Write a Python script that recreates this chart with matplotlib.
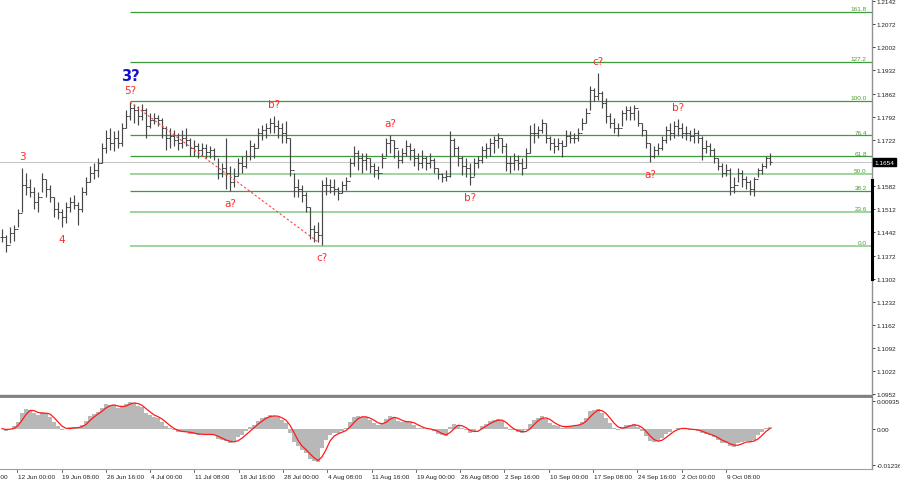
import numpy as np
import pandas as pd
import matplotlib.pyplot as plt
import matplotlib.transforms as mtransforms

# bar data (each bar ~ three 4H bars)
highs = [1.1452, 1.1434, 1.1458, 1.1464, 1.1512, 1.1638, 1.1623, 1.1602, 1.1578, 1.1563,
         1.1623, 1.1602, 1.1584, 1.1548, 1.1533, 1.1512, 1.1533, 1.1548, 1.1554, 1.1533,
         1.1578, 1.1608, 1.1644, 1.1653, 1.1668, 1.1713, 1.1752, 1.1758, 1.1749, 1.1752,
         1.1773, 1.1812, 1.1836, 1.1830, 1.1824, 1.1830, 1.1818, 1.1803, 1.1803, 1.1797,
         1.1788, 1.1764, 1.1758, 1.1752, 1.1743, 1.1752, 1.1758, 1.1728, 1.1722, 1.1713,
         1.1713, 1.1710, 1.1704, 1.1698, 1.1668, 1.1653, 1.1728, 1.1644, 1.1638, 1.1668,
         1.1674, 1.1692, 1.1722, 1.1713, 1.1758, 1.1767, 1.1773, 1.1788, 1.1794, 1.1782,
         1.1773, 1.1779, 1.1728, 1.1623, 1.1602, 1.1584, 1.1563, 1.1518, 1.1464, 1.1473,
         1.1599, 1.1608, 1.1602, 1.1602, 1.1578, 1.1596, 1.1608, 1.1668, 1.1704, 1.1692,
         1.1683, 1.1683, 1.1668, 1.1653, 1.1644, 1.1683, 1.1728, 1.1737, 1.1722, 1.1692,
         1.1698, 1.1722, 1.1713, 1.1698, 1.1683, 1.1692, 1.1674, 1.1683, 1.1668, 1.1638,
         1.1623, 1.1632, 1.1749, 1.1728, 1.1704, 1.1674, 1.1668, 1.1653, 1.1668, 1.1674,
         1.1704, 1.1713, 1.1728, 1.1734, 1.1743, 1.1728, 1.1713, 1.1674, 1.1683, 1.1677,
         1.1668, 1.1698, 1.1767, 1.1773, 1.1764, 1.1785, 1.1773, 1.1734, 1.1728, 1.1728,
         1.1722, 1.1752, 1.1749, 1.1743, 1.1758, 1.1788, 1.1818, 1.1884, 1.1878, 1.1923,
         1.1869, 1.1848, 1.1803, 1.1788, 1.1773, 1.1812, 1.1824, 1.1824, 1.1827, 1.1812,
         1.1773, 1.1752, 1.1713, 1.1704, 1.1713, 1.1734, 1.1764, 1.1773, 1.1779, 1.1785,
         1.1773, 1.1764, 1.1752, 1.1758, 1.1752, 1.1734, 1.1722, 1.1713, 1.1698, 1.1668,
         1.1653, 1.1650, 1.1638, 1.1608, 1.1638, 1.1632, 1.1614, 1.1599, 1.1608, 1.1638,
         1.1653, 1.1674, 1.1683]
lows = [1.1413, 1.1383, 1.1410, 1.1416, 1.1458, 1.1503, 1.1554, 1.1548, 1.1512, 1.1503,
        1.1563, 1.1548, 1.1533, 1.1488, 1.1482, 1.1458, 1.1470, 1.1503, 1.1512, 1.1464,
        1.1503, 1.1554, 1.1593, 1.1602, 1.1608, 1.1653, 1.1683, 1.1692, 1.1689, 1.1698,
        1.1704, 1.1758, 1.1782, 1.1773, 1.1767, 1.1782, 1.1728, 1.1758, 1.1770, 1.1764,
        1.1728, 1.1692, 1.1698, 1.1704, 1.1692, 1.1698, 1.1704, 1.1674, 1.1674, 1.1668,
        1.1674, 1.1668, 1.1668, 1.1662, 1.1602, 1.1608, 1.1572, 1.1566, 1.1578, 1.1614,
        1.1623, 1.1638, 1.1662, 1.1668, 1.1698, 1.1722, 1.1728, 1.1743, 1.1743, 1.1728,
        1.1713, 1.1713, 1.1614, 1.1548, 1.1548, 1.1533, 1.1503, 1.1422, 1.1413, 1.1413,
        1.1404, 1.1554, 1.1560, 1.1554, 1.1539, 1.1560, 1.1569, 1.1608, 1.1644, 1.1632,
        1.1623, 1.1632, 1.1623, 1.1608, 1.1602, 1.1638, 1.1674, 1.1683, 1.1668, 1.1638,
        1.1653, 1.1674, 1.1662, 1.1644, 1.1632, 1.1638, 1.1632, 1.1638, 1.1623, 1.1602,
        1.1593, 1.1596, 1.1608, 1.1674, 1.1644, 1.1617, 1.1608, 1.1584, 1.1614, 1.1638,
        1.1653, 1.1668, 1.1674, 1.1683, 1.1698, 1.1683, 1.1629, 1.1623, 1.1632, 1.1632,
        1.1617, 1.1638, 1.1683, 1.1713, 1.1728, 1.1743, 1.1713, 1.1692, 1.1683, 1.1692,
        1.1671, 1.1704, 1.1713, 1.1713, 1.1719, 1.1752, 1.1773, 1.1812, 1.1839, 1.1842,
        1.1818, 1.1773, 1.1758, 1.1743, 1.1734, 1.1764, 1.1782, 1.1782, 1.1782, 1.1764,
        1.1734, 1.1698, 1.1656, 1.1668, 1.1677, 1.1692, 1.1713, 1.1722, 1.1728, 1.1734,
        1.1728, 1.1722, 1.1719, 1.1713, 1.1713, 1.1662, 1.1683, 1.1674, 1.1653, 1.1632,
        1.1608, 1.1614, 1.1554, 1.1560, 1.1593, 1.1578, 1.1572, 1.1554, 1.1551, 1.1608,
        1.1620, 1.1638, 1.1647]
closes = [1.1428, 1.1404, 1.1440, 1.1452, 1.1500, 1.1584, 1.1578, 1.1563, 1.1533, 1.1548,
          1.1602, 1.1572, 1.1548, 1.1512, 1.1503, 1.1488, 1.1518, 1.1533, 1.1524, 1.1512,
          1.1563, 1.1593, 1.1623, 1.1632, 1.1653, 1.1698, 1.1728, 1.1713, 1.1728, 1.1713,
          1.1758, 1.1794, 1.1818, 1.1812, 1.1794, 1.1812, 1.1764, 1.1782, 1.1788, 1.1782,
          1.1758, 1.1728, 1.1734, 1.1722, 1.1713, 1.1728, 1.1722, 1.1698, 1.1704, 1.1692,
          1.1698, 1.1686, 1.1692, 1.1674, 1.1623, 1.1638, 1.1623, 1.1593, 1.1614, 1.1653,
          1.1644, 1.1674, 1.1704, 1.1698, 1.1743, 1.1752, 1.1758, 1.1773, 1.1764, 1.1758,
          1.1743, 1.1728, 1.1632, 1.1578, 1.1572, 1.1554, 1.1518, 1.1452, 1.1443, 1.1434,
          1.1584, 1.1584, 1.1578, 1.1572, 1.1560, 1.1584, 1.1596, 1.1653, 1.1683, 1.1668,
          1.1662, 1.1668, 1.1644, 1.1632, 1.1623, 1.1668, 1.1713, 1.1722, 1.1698, 1.1662,
          1.1683, 1.1704, 1.1692, 1.1668, 1.1653, 1.1668, 1.1653, 1.1662, 1.1638, 1.1620,
          1.1608, 1.1614, 1.1722, 1.1698, 1.1668, 1.1644, 1.1638, 1.1608, 1.1653, 1.1662,
          1.1692, 1.1698, 1.1713, 1.1722, 1.1728, 1.1704, 1.1653, 1.1653, 1.1662, 1.1653,
          1.1638, 1.1683, 1.1743, 1.1743, 1.1752, 1.1773, 1.1728, 1.1713, 1.1704, 1.1713,
          1.1704, 1.1734, 1.1728, 1.1728, 1.1743, 1.1773, 1.1803, 1.1872, 1.1854, 1.1863,
          1.1833, 1.1794, 1.1773, 1.1758, 1.1758, 1.1803, 1.1812, 1.1803, 1.1818, 1.1773,
          1.1752, 1.1713, 1.1674, 1.1692, 1.1698, 1.1722, 1.1752, 1.1743, 1.1764, 1.1758,
          1.1743, 1.1743, 1.1734, 1.1743, 1.1728, 1.1698, 1.1704, 1.1692, 1.1668, 1.1644,
          1.1623, 1.1632, 1.1578, 1.1584, 1.1623, 1.1602, 1.1593, 1.1572, 1.1602, 1.1632,
          1.1644, 1.1668, 1.1654]

date_labels = ["4 Jun 16:00", "12 Jun 00:00", "19 Jun 08:00", "26 Jun 16:00", "4 Jul 00:00",
               "11 Jul 08:00", "18 Jul 16:00", "28 Jul 00:00", "4 Aug 08:00", "11 Aug 16:00",
               "19 Aug 00:00", "26 Aug 08:00", "2 Sep 16:00", "10 Sep 00:00", "17 Sep 08:00",
               "24 Sep 16:00", "2 Oct 00:00", "9 Oct 08:00"]
price_ticks = [1.2142, 1.2072, 1.2002, 1.1932, 1.1862, 1.1792, 1.1722, 1.1582, 1.1512,
               1.1442, 1.1372, 1.1302, 1.1232, 1.1162, 1.1092, 1.1022, 1.0952]
macd_ticks = [0.00935, 0.0, -0.01236]
macd_tick_labels = ["0.00935", "0.00", "-0.01236"]
last_price = 1.1654

fib_ratios = [0.0, 23.6, 38.2, 50.0, 61.8, 76.4, 100.0, 127.2, 161.8]
fib_start, fib_low, fib_high = 32, 1.1401, 1.1839

# wave labels: text, bar, above/below
waves = [("3", 5, 1), ("4", 15, -1), ("5?", 32, 1),
         ("a?", 57, -1), ("b?", 68, 1), ("c?", 80, -1),
         ("a?", 97, 1), ("b?", 117, -1), ("c?", 149, 1),
         ("a?", 162, -1), ("b?", 169, 1)]

n = len(closes)
idx = np.arange(n)
opens = np.r_[closes[0], closes[:-1]]

s = pd.Series(closes)
macd = s.ewm(span=4, adjust=False).mean() - s.ewm(span=15, adjust=False).mean()
signal = macd.rolling(3, min_periods=1).mean()

W, H = 900, 485
fig = plt.figure(figsize=(9, 4.85), dpi=100)
ax = fig.add_axes([0, 1 - 396 / H, 872 / W, 396 / H])
ax2 = fig.add_axes([0, 1 - 470 / H, 872 / W, 72 / H])
xmax = (872 - 2) / 4
for a in (ax, ax2):
    a.set_xlim(-0.5, xmax)
    a.spines["left"].set_visible(False)
    a.spines["top"].set_visible(False)
    a.spines["right"].set_color("#909090")
    a.spines["right"].set_linewidth(1)
    a.yaxis.tick_right()
    a.tick_params(axis="y", length=2, width=0.6, pad=1.2, labelsize=4.6,
                  colors="#222222", labelfontfamily="Liberation Sans")
    a.set_xticks([])

ax.spines["bottom"].set_color("#808080")
ax.spines["bottom"].set_linewidth(1.0)
ax2.spines["bottom"].set_color("#a0a0a0")
ax2.spines["bottom"].set_linewidth(0.8)

ax.set_ylim(1.0950, 1.2148)
ax.set_yticks(price_ticks)
ax.set_yticklabels([f"{v:.4f}" for v in price_ticks])

# current price line and box
ax.axhline(last_price, color="#c8c8c8", lw=0.8, zorder=1)
ax.text(xmax + 0.6, last_price, f"{last_price:.4f}", color="white", fontsize=4.6,
        family="Liberation Sans", va="center", ha="left", clip_on=False, zorder=6,
        bbox=dict(boxstyle="square,pad=0.25", fc="black", ec="black"))

# fibonacci grid
span = fib_high - fib_low
light = {0.0, 23.6, 50.0}
for r in fib_ratios:
    lv = fib_low + r / 100 * span
    ax.hlines(lv, fib_start, xmax, color="#9fd49f" if r in light else "#3d9a3d",
              lw=1.4 if r in light else 0.9, zorder=1)
    ax.text(216.2, lv + 0.0002, f"{r:.1f}", color="#4c9c2c", fontsize=4.6,
            family="Liberation Sans", ha="right", va="bottom", zorder=2)

# bars
bar_col = "#474747"
ax.vlines(idx, lows, highs, color=bar_col, lw=0.85, zorder=3)
ax.hlines(opens, idx - 0.45, idx, color=bar_col, lw=0.7, zorder=3)
ax.hlines(closes, idx, idx + 0.45, color=bar_col, lw=0.7, zorder=3)

# dotted trend line
ax.plot([32, 79], [highs[32], lows[79]], color="#ff4040", lw=0.8,
        ls=(0, (2, 2)), zorder=4)

for txt, b, side in waves:
    yv = highs[b] if side > 0 else lows[b]
    ax.annotate(txt, (b, yv), xytext=(0, 12 * side), textcoords="offset pixels",
                ha="center", va="center", color="#ff2a2a", fontsize=7.5, zorder=5)
ax.annotate("3?", (32, highs[32]), xytext=(0, 27), textcoords="offset pixels",
            ha="center", va="center", color="#1414d2", fontsize=10.5,
            fontweight="bold", zorder=5)

# thick marker on price scale
ax.plot([1, 1], [1.1600, 1.1300], transform=mtransforms.blended_transform_factory(
    ax.transAxes, ax.transData), color="black", lw=2.2, clip_on=False, zorder=6)

# MACD panel
ax2.set_ylim(-0.01372, 0.01071)
ax2.bar(idx, macd, width=1.0, color="#b8b8b8", linewidth=0, zorder=2)
ax2.plot(idx, signal, color="#ff1a1a", lw=0.9, zorder=3)
ax2.set_yticks(macd_ticks)
ax2.set_yticklabels(macd_tick_labels)
ax2.spines["top"].set_visible(True)
ax2.spines["top"].set_color("#707070")
ax2.spines["top"].set_linewidth(1.2)

trans = mtransforms.blended_transform_factory(ax2.transData, ax2.transAxes)
for k, lab in enumerate(date_labels):
    px = 18 + 44.3 * (k - 1)
    xi = (px - 2) / 4
    ax2.text(xi, -0.1, lab, transform=trans, fontsize=4.6, family="Liberation Sans",
             ha="left", va="center", color="#222222", clip_on=False)
    ax2.plot([xi - 0.2, xi - 0.2], [0, -0.04], transform=trans, color="#555555",
             lw=0.6, clip_on=False)

fig.savefig("out.png", dpi=100)
